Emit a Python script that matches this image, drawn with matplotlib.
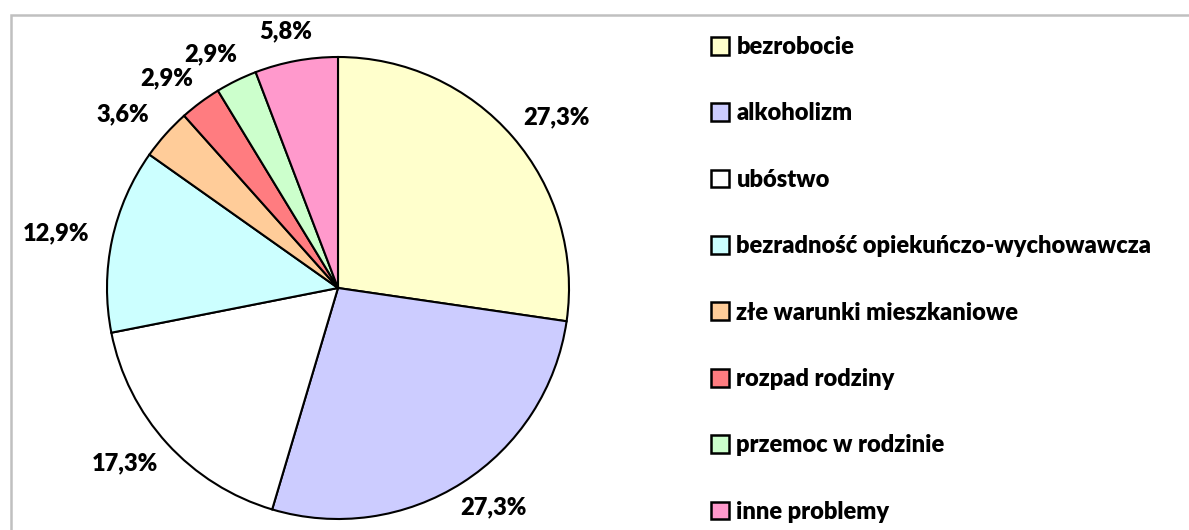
import numpy as np
import matplotlib
matplotlib.use("Agg")
import matplotlib.pyplot as plt
from matplotlib.patches import Rectangle

categories = ["bezrobocie", "alkoholizm", "ubóstwo",
              "bezradność opiekuńczo-wychowawcza", "złe warunki mieszkaniowe",
              "rozpad rodziny", "przemoc w rodzinie", "inne problemy"]
values = [27.3, 27.3, 17.3, 12.9, 3.6, 2.9, 2.9, 5.8]
colors = ["#FFFFCC", "#CCCCFF", "#FFFFFF", "#CCFFFF", "#FFCC99",
          "#FF7C80", "#CCFFCC", "#FF99CC"]

plt.rcParams['font.family'] = ['Lato', 'DejaVu Sans']
plt.rcParams['font.weight'] = 'heavy'

W, H = 1189, 530
fig = plt.figure(figsize=(W / 100, H / 100), dpi=100)

# grey frame around the chart area (runs off the right and bottom edge)
fig.patches.append(Rectangle((10.5 / W, -0.1), 1.2, 1 - 15 / H + 0.1,
                             transform=fig.transFigure, fill=False,
                             edgecolor="#C0C0C0", linewidth=1.8))

cx, cy, r = 338, H - 288, 231
ax = fig.add_axes([(cx - r) / W, (cy - r) / H, 2 * r / W, 2 * r / H])
wedges, _ = ax.pie(values, colors=colors, startangle=90, counterclock=False,
                   radius=1.0,
                   wedgeprops=dict(edgecolor="black", linewidth=1.5))
ax.set_xlim(-1, 1)
ax.set_ylim(-1, 1)
ax.set_aspect("equal")
ax.axis("off")

# percentage labels just outside each wedge
half_w, half_h = 46 / r, 18 / r
for w, v in zip(wedges, values):
    ang = np.deg2rad((w.theta1 + w.theta2) / 2)
    ux, uy = np.cos(ang), np.sin(ang)
    x = 1.05 * ux + half_w * ux
    y = 1.05 * uy + half_h * uy
    ax.text(x, y, f"{v:.1f}%".replace(".", ","), ha="center", va="center",
            fontsize=17, fontweight="heavy", clip_on=False)

leg = fig.legend(wedges, categories, loc="upper left",
                 bbox_to_anchor=(711 / W, 1 - 36 / H), frameon=False,
                 fontsize=17, handlelength=0.78, handleheight=0.78,
                 handletextpad=0.3, labelspacing=1.88, borderpad=0,
                 borderaxespad=0)
for h in leg.legend_handles:
    h.set_edgecolor("black")
    h.set_linewidth(1.8)

fig.savefig("out.png", dpi=100)
